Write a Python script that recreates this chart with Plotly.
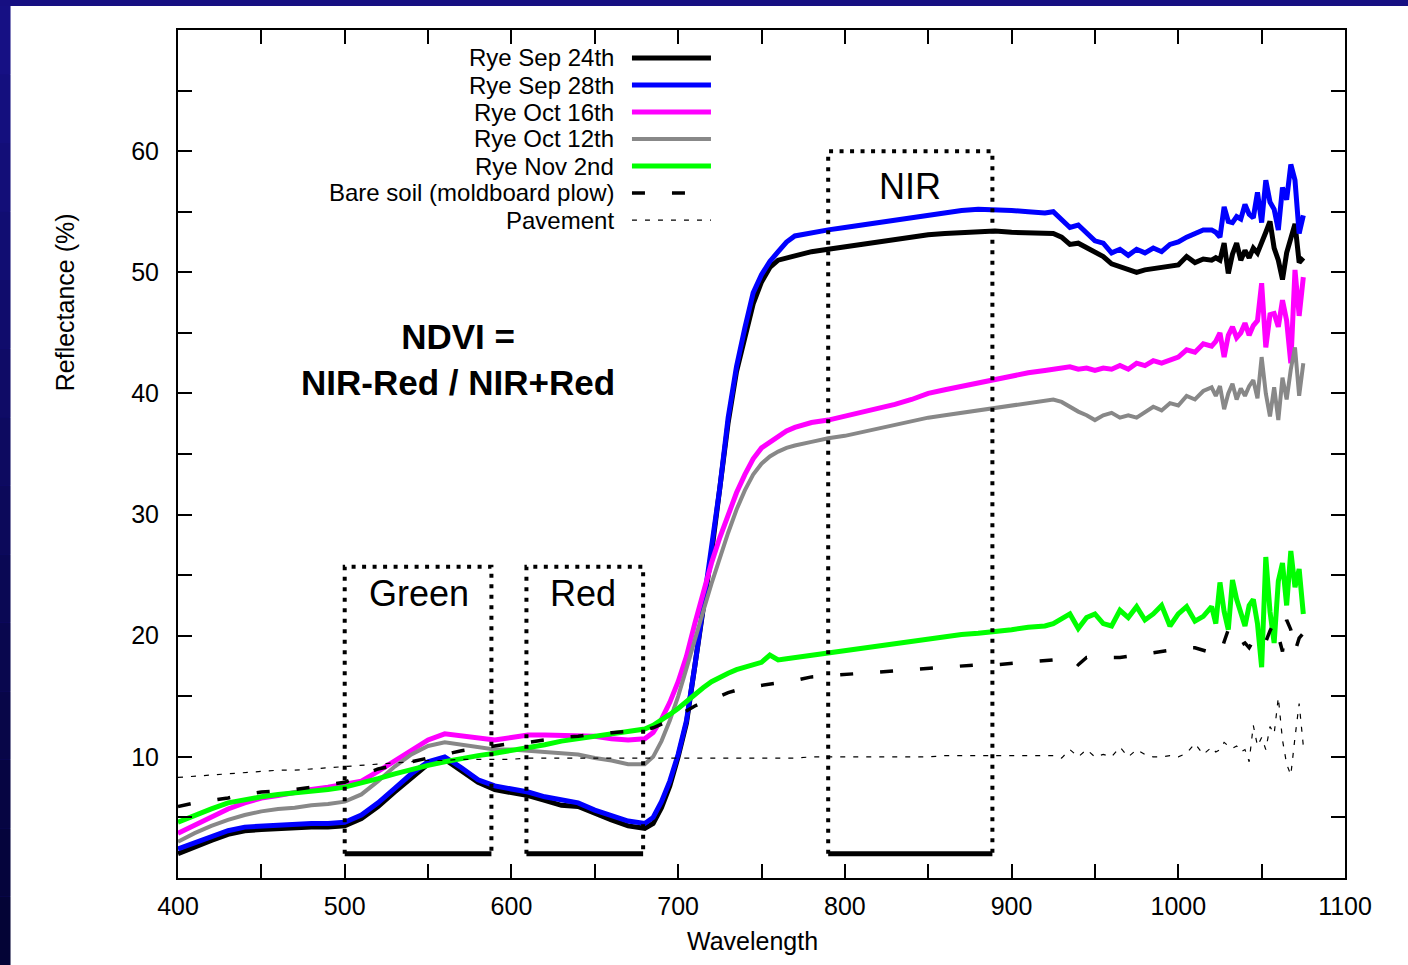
import plotly.graph_objects as go

# ---------------- data ----------------
wavelength = [400, 410, 420, 430, 440, 450, 460, 470, 480, 490, 500, 510, 520, 530, 540, 550, 560, 570, 580, 590,
              600, 610, 620, 630, 640, 650, 660, 670, 680,
              685, 690, 695, 700, 705, 710, 715, 720, 725, 730, 735, 740, 745, 750, 755, 760, 765, 770,
              780, 790, 800, 810, 820, 830, 840, 850, 860, 870, 880, 890, 900, 910, 920,
              925, 930, 935, 940, 945, 950, 955, 960, 965, 970, 975, 980, 985, 990, 995, 1000, 1005, 1010, 1015, 1020,
              1022.5, 1025, 1027.5, 1030, 1032.5, 1035, 1037.5, 1040, 1042.5, 1045, 1047.5, 1050, 1052.5, 1055,
              1057.5, 1060, 1062.5, 1065, 1067.5, 1070, 1072.5, 1075]

rye_sep24 = [2.0, 2.6, 3.1, 3.6, 3.9, 4.0, 4.1, 4.2, 4.2, 4.2, 4.3, 4.9, 5.9, 7.1, 8.3, 9.4, 9.8, 8.9, 7.9, 7.3,
             7.1, 6.8, 6.4, 6.0, 5.9, 5.3, 4.8, 4.3, 4.1,
             4.5, 5.8, 7.6, 10.0, 12.8, 17.2, 22.2, 26.8, 32.0, 37.6, 41.8, 44.8, 47.4, 49.2, 50.4, 51.0, 51.2, 51.4,
             51.7, 51.9, 52.1, 52.3, 52.6, 52.8, 53.0, 53.1, 53.2, 53.3, 53.3, 53.4, 53.3, 53.3, 53.3,
             53.2, 52.9, 52.3, 52.4, 52.0, 51.6, 51.3, 50.7, 50.5, 50.3, 50.0, 50.2, 50.3, 50.3, 50.5, 50.6, 51.3, 50.8, 51.1, 51.0,
             51.2, 51.0, 52.4, 49.9, 51.5, 52.4, 51.0, 51.8, 51.2, 52.0, 51.6, 52.6, 53.3, 54.2, 52.0, 51.0, 49.4, 51.6,
             52.8, 54.0, 50.8, 51.2]

rye_sep28 = [2.4, 2.9, 3.4, 3.9, 4.2, 4.3, 4.4, 4.5, 4.5, 4.5, 4.6, 5.2, 6.2, 7.4, 8.6, 9.6, 10.0, 9.1, 8.1, 7.6,
             7.4, 7.1, 6.7, 6.4, 6.2, 5.6, 5.1, 4.7, 4.5,
             5.0, 6.3, 8.0, 10.2, 13.0, 17.5, 22.5, 27.0, 32.2, 38.0, 42.2, 45.4, 48.3, 49.8, 50.9, 51.7, 52.5, 53.0,
             53.3, 53.5, 53.7, 53.9, 54.1, 54.4, 54.6, 54.8, 55.0, 55.1, 55.2, 55.2, 55.1, 55.0, 54.9,
             55.0, 54.4, 53.7, 53.9, 53.3, 52.6, 52.4, 51.6, 51.9, 51.4, 51.9, 51.6, 52.0, 51.7, 52.3, 52.5, 52.9, 53.2, 53.5, 53.5,
             53.3, 52.9, 55.4, 54.2, 54.1, 54.6, 54.4, 55.6, 54.8, 54.5, 56.6, 54.1, 57.6, 55.8, 55.2, 53.5, 57.0, 56.0,
             58.9, 57.6, 53.2, 54.7]

rye_oct16 = [3.7, 4.4, 5.1, 5.7, 6.2, 6.6, 6.8, 7.1, 7.3, 7.5, 7.7, 8.0, 8.8, 9.7, 10.6, 11.4, 11.9, 11.7, 11.5, 11.4,
             11.6, 11.8, 11.8, 11.8, 11.8, 11.7, 11.5, 11.4, 11.5,
             12.0, 13.1, 14.5, 16.2, 18.3, 21.0, 23.6, 26.0, 28.1, 30.1, 31.8, 33.3, 34.6, 35.5, 36.0, 36.5, 36.9, 37.2,
             37.6, 37.8, 38.1, 38.4, 38.7, 39.1, 39.5, 40.0, 40.3, 40.6, 40.9, 41.1, 41.4, 41.7, 41.9,
             42.0, 42.2, 42.2, 42.0, 42.1, 41.9, 42.1, 42.0, 42.3, 42.0, 42.5, 42.3, 42.7, 42.5, 42.8, 43.0, 43.6, 43.4, 44.1, 43.9,
             44.3, 45.0, 43.0, 44.8, 45.5, 44.6, 45.0, 45.8, 44.8, 45.6, 46.0, 49.1, 43.8, 46.5, 46.6, 45.5, 47.7, 46.0,
             42.5, 50.2, 46.4, 49.6]

rye_oct12 = [3.0, 3.7, 4.3, 4.8, 5.2, 5.5, 5.7, 5.8, 6.0, 6.1, 6.3, 6.9, 8.0, 9.2, 10.2, 10.9, 11.2, 11.0, 10.8, 10.6,
             10.6, 10.5, 10.4, 10.3, 10.2, 9.9, 9.7, 9.4, 9.4,
             10.0, 11.3, 13.0, 15.0, 17.3, 19.8, 22.0, 24.3, 26.5, 28.5, 30.4, 32.0, 33.3, 34.2, 34.8, 35.2, 35.5, 35.7,
             36.0, 36.3, 36.5, 36.8, 37.1, 37.4, 37.7, 38.0, 38.2, 38.4, 38.6, 38.8, 39.0, 39.2, 39.4,
             39.5, 39.3, 38.9, 38.5, 38.2, 37.8, 38.2, 38.4, 38.0, 38.2, 38.0, 38.5, 38.9, 38.6, 39.2, 39.0, 39.8, 39.5, 40.2, 40.5,
             39.8, 40.6, 38.7, 40.0, 40.8, 39.5, 40.4, 39.8, 40.6, 41.1, 39.6, 43.0, 40.0, 38.1, 40.5, 37.8, 41.3, 39.5,
             42.0, 43.8, 39.8, 42.5]

rye_nov2 = [4.6, 5.2, 5.7, 6.2, 6.5, 6.7, 6.9, 7.0, 7.2, 7.3, 7.5, 7.8, 8.2, 8.6, 9.0, 9.3, 9.6, 9.9, 10.1, 10.3,
            10.5, 10.7, 11.0, 11.3, 11.5, 11.7, 11.9, 12.1, 12.3,
            12.6, 13.0, 13.5, 14.0, 14.6, 15.1, 15.7, 16.2, 16.6, 16.9, 17.2, 17.4, 17.6, 17.8, 18.4, 18.0, 18.1, 18.2,
            18.4, 18.6, 18.8, 19.0, 19.2, 19.4, 19.6, 19.8, 19.9, 20.1, 20.2, 20.3, 20.5, 20.7, 20.8,
            21.0, 21.4, 21.8, 20.6, 21.5, 21.8, 21.0, 20.8, 22.1, 21.5, 22.4, 21.3, 21.8, 22.5, 20.8, 21.8, 22.4, 21.2, 21.6, 22.4,
            21.0, 24.4, 22.0, 20.5, 24.6, 23.0, 22.0, 20.8, 22.5, 23.0, 21.0, 17.4, 26.5, 22.0, 19.4, 24.5, 26.0, 22.5,
            27.0, 24.0, 25.5, 21.8]

bare_soil = [5.9, 6.2, 6.4, 6.6, 6.9, 7.1, 7.2, 7.3, 7.5, 7.7, 7.9, 8.5, 9.0, 9.3, 9.6, 9.9, 10.2, 10.5, 10.7, 10.9,
             11.1, 11.2, 11.4, 11.6, 11.7, 11.9, 12.0, 12.1, 12.2,
             12.4, 12.7, 13.0, 13.4, 13.8, 14.2, 14.5, 14.8, 15.0, 15.3, 15.5, 15.7, 15.8, 15.9, 16.0, 16.1, 16.2, 16.3,
             16.6, 16.7, 16.8, 16.9, 17.0, 17.1, 17.2, 17.3, 17.4, 17.5, 17.6, 17.6, 17.7, 17.8, 17.9,
             18.0, 18.1, 18.2, 17.6, 18.2, 18.2, 18.3, 18.2, 18.2, 18.3, 18.4, 18.5, 18.6, 18.7, 18.8, 18.9, 19.0, 19.0, 18.8, 18.6,
             18.5, 18.4, 19.5, 20.5, 19.5, 19.6, 19.2, 19.4, 19.0, 19.6, 20.2, 19.7, 19.5, 20.4, 21.1, 20.0, 18.7, 21.3,
             20.5, 18.7, 19.8, 20.2]

pavement = [8.3, 8.4, 8.5, 8.6, 8.7, 8.8, 8.9, 8.9, 9.0, 9.1, 9.2, 9.3, 9.4, 9.5, 9.6, 9.7, 9.7, 9.8, 9.8, 9.8,
            9.8, 9.9, 9.9, 9.9, 9.9, 9.9, 9.9, 9.9, 9.9,
            9.9, 9.9, 9.9, 9.9, 9.9, 9.9, 9.9, 9.9, 9.9, 9.9, 9.9, 9.9, 9.9, 9.9, 9.9, 9.9, 9.9, 9.9,
            10.0, 10.0, 10.0, 10.0, 10.0, 10.0, 10.0, 10.0, 10.1, 10.1, 10.1, 10.1, 10.1, 10.1, 10.1,
            10.1, 9.9, 10.6, 10.0, 10.6, 10.0, 10.2, 10.0, 10.8, 10.0, 10.6, 10.2, 10.0, 10.0, 10.1, 10.0, 10.3, 11.1, 10.2, 10.8,
            10.4, 10.6, 11.2, 10.9, 10.7, 10.9, 10.4, 10.6, 9.6, 12.6, 10.9, 11.6, 10.6, 12.5, 11.9, 14.9, 11.4, 9.4,
            8.5, 11.6, 14.4, 10.9]

series_names = ["Rye Sep 24th", "Rye Sep 28th", "Rye Oct 16th", "Rye Oct 12th", "Rye Nov 2nd",
                "Bare soil (moldboard plow)", "Pavement"]
series_values = [rye_sep24, rye_sep28, rye_oct16, rye_oct12, rye_nov2, bare_soil, pavement]

# spectral bands drawn as boxes: name, start nm, end nm, top (%)
band_names = ["Green", "Red", "NIR"]
band_start = [500, 609, 790]
band_end = [588, 679, 888.5]
band_top = [25.7, 25.7, 60]
band_base = 2

x_tick_labels = [400, 500, 600, 700, 800, 900, 1000, 1100]
y_tick_labels = [10, 20, 30, 40, 50, 60]

# ---------------- styles ----------------
colors = ["#000000", "#0000ff", "#ff00ff", "#888888", "#00ff00", "#000000", "#000000"]
widths = [5, 5, 5, 4, 5, 3.5, 1.2]
dashes = ["solid", "solid", "solid", "solid", "solid", "13px,27px", "5px,8px"]
FONT = "Liberation Sans, Arial, Helvetica, sans-serif"

fig = go.Figure()
for name, vals, c, w, d in zip(series_names, series_values, colors, widths, dashes):
    fig.add_trace(go.Scatter(x=wavelength, y=vals, mode="lines", name=name, showlegend=False,
                             line=dict(color=c, width=w, dash=d), hoverinfo="skip"))

shapes = []
annotations = []

# page background: navy frame with white slide area
shapes.append(dict(type="rect", xref="paper", yref="paper", x0=-0.144, x1=1.2, y0=-0.3, y1=1.0283,
                   fillcolor="white", line=dict(width=0), layer="below"))
n_strip = 14
top_rgb = (0x16, 0x10, 0x84)
bot_rgb = (0x04, 0x04, 0x36)
y_top, y_bot = 1.0283, -0.103
for i in range(n_strip):
    t = i / (n_strip - 1)
    col = "rgb(%d,%d,%d)" % tuple(int(a + (b - a) * t) for a, b in zip(top_rgb, bot_rgb))
    ya = y_top + (y_bot - y_top) * i / n_strip
    yb = y_top + (y_bot - y_top) * (i + 1) / n_strip
    shapes.append(dict(type="rect", xref="paper", yref="paper", x0=-0.16, x1=-0.1435, y0=yb, y1=ya,
                       fillcolor=col, line=dict(width=0), layer="below"))

# band boxes
for name, x0, x1, top in zip(band_names, band_start, band_end, band_top):
    shapes.append(dict(type="path", xref="x", yref="y",
                       path=f"M {x0},{band_base} L {x0},{top} L {x1},{top} L {x1},{band_base}",
                       line=dict(color="black", width=4, dash="4px,6.5px"), layer="above"))
    shapes.append(dict(type="line", xref="x", yref="y", x0=x0, x1=x1, y0=band_base, y1=band_base,
                       line=dict(color="black", width=5), layer="above"))

annotations.append(dict(x=544.6, y=23.5, xref="x", yref="y", text="Green", showarrow=False,
                        font=dict(family=FONT, size=36, color="black")))
annotations.append(dict(x=643, y=23.5, xref="x", yref="y", text="Red", showarrow=False,
                        font=dict(family=FONT, size=36, color="black")))
annotations.append(dict(x=839, y=57.1, xref="x", yref="y", text="NIR", showarrow=False,
                        font=dict(family=FONT, size=36, color="black")))
annotations.append(dict(x=568, y=42.8, xref="x", yref="y", text="<b>NDVI =<br>NIR-Red / NIR+Red</b>",
                        showarrow=False, align="center",
                        font=dict(family=FONT, size=35, color="black")))

# legend (text on the left, line sample on the right)
leg_rows = [0.967, 0.9351, 0.9033, 0.8715, 0.8396, 0.8078, 0.7759]
leg_widths = [5, 5, 5, 4, 5, 3.5, 1.2]
for name, c, w, d, yy in zip(series_names, colors, leg_widths, dashes, leg_rows):
    annotations.append(dict(x=0.3745, y=yy, xref="paper", yref="paper", text=name, showarrow=False,
                            xanchor="right", yanchor="middle", borderpad=0,
                            font=dict(family=FONT, size=24, color="black")))
    shapes.append(dict(type="line", xref="paper", yref="paper", x0=0.389, x1=0.4567, y0=yy, y1=yy,
                       line=dict(color=c, width=w, dash=d), layer="above"))

# axis titles
annotations.append(dict(x=0.4919, y=-0.0743, xref="paper", yref="paper", text="Wavelength", showarrow=False,
                        xanchor="center", yanchor="middle", font=dict(family=FONT, size=25, color="black")))
annotations.append(dict(x=-0.0968, y=0.679, xref="paper", yref="paper", text="Reflectance (%)", showarrow=False,
                        textangle=-90, xanchor="center", yanchor="middle",
                        font=dict(family=FONT, size=25, color="black")))

axis_common = dict(showgrid=False, zeroline=False, showline=True, linecolor="black", linewidth=2,
                   mirror="allticks", ticks="inside", ticklen=14, tickwidth=2, tickcolor="black",
                   tickfont=dict(family=FONT, size=25, color="black"))

fig.update_layout(
    width=1408, height=965,
    margin=dict(l=178, r=63, t=30, b=87, pad=0),
    paper_bgcolor="#160f82", plot_bgcolor="white",
    shapes=shapes, annotations=annotations,
    showlegend=False,
    xaxis=dict(range=[400, 1100], tickmode="array", tickvals=x_tick_labels, ticklabelstandoff=5,
               minor=dict(dtick=50, tick0=400, ticks="inside", ticklen=14, tickwidth=2, tickcolor="black",
                          showgrid=False),
               **axis_common),
    yaxis=dict(range=[0, 70], tickmode="array", tickvals=y_tick_labels, ticklabelstandoff=12,
               minor=dict(dtick=5, tick0=0, ticks="inside", ticklen=14, tickwidth=2, tickcolor="black",
                          showgrid=False),
               **axis_common),
)

fig.write_html("out.html", config={"displayModeBar": False},
               post_script="document.body.style.margin='0';document.body.style.overflow='hidden';")
